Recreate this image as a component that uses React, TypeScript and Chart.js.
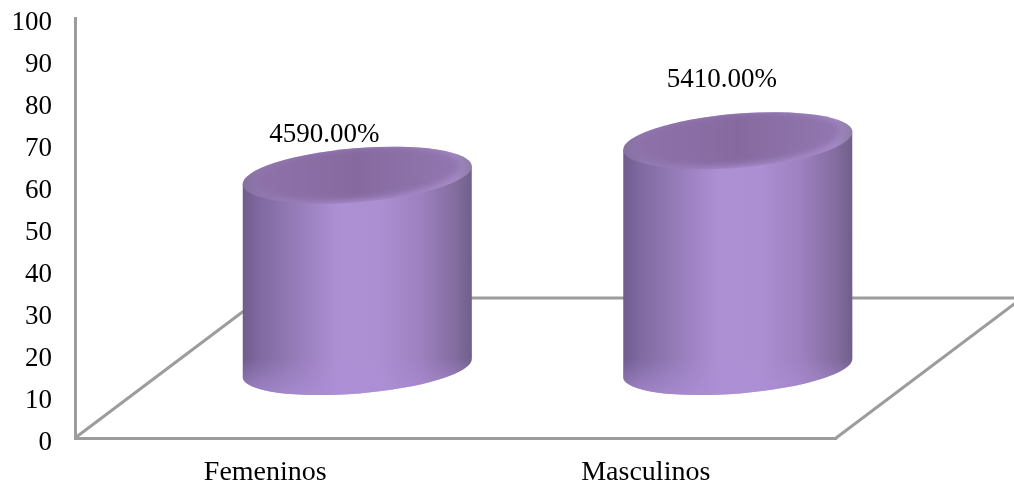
import React, { useEffect, useRef } from "react";
import { Chart, registerables } from "chart.js";

Chart.register(...registerables);

const categories = ["Femeninos", "Masculinos"];
const values = [45.9, 54.1];
const yTicks = [0, 10, 20, 30, 40, 50, 60, 70, 80, 90, 100];

const FONT = '"Liberation Serif", serif';
const AXIS_GREY = "#9c9c9c";

// Oblique projection used for the floor and for the cylinders standing on it.
const DEPTH = { floorX: 186, floorY: 140, barX: 92, barY: 70 };
const ELLIPSE = { rx: 115, ry: 25.5, tilt: (-4.7 * Math.PI) / 180, edgeDrop: 9 };
const VALUE_LABEL_OFFSET = [
  { x: -33, y: -40 },
  { x: -16, y: -61 },
];

const bodyGradient = (ctx: CanvasRenderingContext2D, left: number, right: number) => {
  const g = ctx.createLinearGradient(left, 0, right, 0);
  g.addColorStop(0, "#6f5c8d");
  g.addColorStop(0.07, "#7f69a0");
  g.addColorStop(0.2, "#9179b4");
  g.addColorStop(0.42, "#ae8fd5");
  g.addColorStop(0.6, "#ab8fd2");
  g.addColorStop(0.78, "#9d80bf");
  g.addColorStop(0.93, "#836c9f");
  g.addColorStop(1, "#6f608a");
  return g;
};

const drawCylinder = (
  ctx: CanvasRenderingContext2D,
  cx: number,
  topY: number,
  baseY: number,
  halfWidth: number
) => {
  const { rx, ry, tilt, edgeDrop } = ELLIPSE;
  const left = cx - halfWidth;
  const right = cx + halfWidth;

  // Side wall: the lower half of the base ellipse closed off by the two edges.
  ctx.save();
  ctx.beginPath();
  ctx.moveTo(left, topY + edgeDrop);
  ctx.lineTo(left, baseY + edgeDrop);
  ctx.ellipse(cx, baseY, rx, ry, tilt, Math.PI, 0, true);
  ctx.lineTo(right, topY - edgeDrop);
  ctx.closePath();
  ctx.fillStyle = bodyGradient(ctx, left, right);
  ctx.fill();
  ctx.clip();

  // Lighter rim along the bottom of the wall.
  const rim = ctx.createLinearGradient(0, baseY - 10, 0, baseY + ry + 4);
  rim.addColorStop(0, "rgba(172,142,214,0)");
  rim.addColorStop(1, "rgba(172,142,214,0.75)");
  ctx.fillStyle = rim;
  ctx.fillRect(left, baseY - 20, right - left, ry + 30);
  ctx.restore();

  // Cap: a ring close to the wall colour, with a soft darker centre.
  ctx.save();
  ctx.beginPath();
  ctx.ellipse(cx, topY, rx, ry + 1.5, tilt, 0, Math.PI * 2);
  const cap = ctx.createLinearGradient(left, 0, right, 0);
  cap.addColorStop(0, "#85709f");
  cap.addColorStop(0.08, "#8f78ad");
  cap.addColorStop(0.5, "#a98cd0");
  cap.addColorStop(0.92, "#a48ac6");
  cap.addColorStop(1, "#8f7ea6");
  ctx.fillStyle = cap;
  ctx.fill();
  ctx.clip();
  ctx.filter = "blur(3px)";
  ctx.beginPath();
  ctx.ellipse(cx, topY - 2, rx * 0.9, ry + 1, tilt, 0, Math.PI * 2);
  const centre = ctx.createLinearGradient(left, 0, right, 0);
  centre.addColorStop(0, "#8f72ab");
  centre.addColorStop(0.5, "#866a9f");
  centre.addColorStop(1, "#9378b2");
  ctx.fillStyle = centre;
  ctx.fill();
  ctx.restore();
};

const floorAndCylinders = {
  id: "floorAndCylinders",
  beforeDatasetsDraw(chart: any) {
    const { ctx, chartArea } = chart;
    const { left, right, bottom } = chartArea;
    const backY = bottom - DEPTH.floorY;
    ctx.save();
    ctx.strokeStyle = AXIS_GREY;
    ctx.lineWidth = 3;
    ctx.beginPath();
    ctx.moveTo(left, bottom);
    ctx.lineTo(left + DEPTH.floorX, backY);
    ctx.lineTo(right + DEPTH.floorX, backY);
    ctx.lineTo(right, bottom);
    ctx.stroke();
    ctx.restore();
  },
  afterDatasetsDraw(chart: any) {
    const { ctx } = chart;
    const bars = chart.getDatasetMeta(0).data;
    bars.forEach((bar: any, i: number) => {
      const cx = bar.x + DEPTH.barX;
      const topY = bar.y - DEPTH.barY;
      const baseY = bar.base - DEPTH.barY;
      drawCylinder(ctx, cx, topY, baseY, bar.width / 2);

      ctx.save();
      ctx.fillStyle = "#000";
      ctx.font = `27px ${FONT}`;
      ctx.textAlign = "center";
      ctx.textBaseline = "middle";
      const text = `${(values[i] * 100).toFixed(2)}%`;
      ctx.fillText(text, cx + VALUE_LABEL_OFFSET[i].x, topY + VALUE_LABEL_OFFSET[i].y);
      ctx.restore();
    });
  },
};

export default function App() {
  const ref = useRef<HTMLCanvasElement>(null);

  useEffect(() => {
    const chart = new Chart(ref.current!, {
      type: "bar",
      data: {
        labels: categories,
        datasets: [
          {
            data: values,
            backgroundColor: "rgba(0,0,0,0)",
            borderWidth: 0,
            barThickness: 229,
          },
        ],
      },
      plugins: [floorAndCylinders],
      options: {
        animation: false,
        responsive: false,
        layout: { padding: { top: 18, right: 178, left: 0, bottom: 0 } },
        plugins: { legend: { display: false }, tooltip: { enabled: false } },
        scales: {
          x: {
            afterFit: (s: any) => {
              s.height = 49;
              s.paddingLeft = 0;
              s.paddingRight = 0;
            },
            grid: { display: false },
            border: { display: true, color: AXIS_GREY, width: 3 },
            ticks: {
              color: "#000",
              font: { family: FONT, size: 28 },
              padding: 10,
              maxRotation: 0,
            },
          },
          y: {
            min: 0,
            max: 100,
            afterFit: (s: any) => {
              s.width = 75;
              s.paddingTop = 0;
              s.paddingBottom = 0;
            },
            afterBuildTicks: (s: any) => {
              s.ticks = yTicks.map((value) => ({ value }));
            },
            grid: { display: false, drawTicks: false },
            border: { display: true, color: AXIS_GREY, width: 3 },
            ticks: {
              color: "#000",
              font: { family: FONT, size: 27 },
              padding: 23,
              labelOffset: 5,
            },
          },
        },
      },
    });
    return () => chart.destroy();
  }, []);

  return (
    <div style={{ position: "fixed", left: 0, top: 0, width: 1014, height: 487, background: "#fff" }}>
      <canvas ref={ref} width={1014} height={487} style={{ display: "block" }} />
    </div>
  );
}
